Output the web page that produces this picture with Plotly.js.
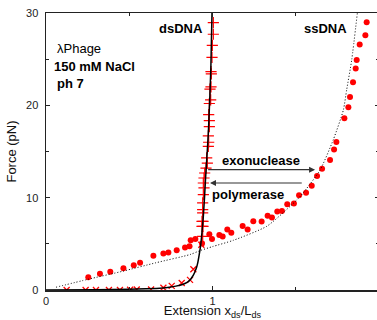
<!DOCTYPE html>
<html>
<head>
<meta charset="utf-8">
<script src="https://cdn.plot.ly/plotly-3.0.1.min.js"></script>
<style>
html,body{margin:0;padding:0;overflow:hidden;background:#fff;}
#chart{width:382px;height:320px;}
</style>
</head>
<body>
<div id="chart"></div>
<script>
// ssDNA measurements (filled circles)
var ssX = [0.254,0.324,0.386,0.465,0.527,0.565,0.645,0.705,0.735,0.785,0.835,0.862,0.869,0.897,0.937,0.981,0.997,1.041,1.061,1.089,1.113,1.181,1.211,1.245,1.295,1.331,1.357,1.389,1.417,1.449,1.489,1.520,1.562,1.596,1.628,1.658,1.706,1.730,1.744,1.792,1.816,1.826,1.844,1.860,1.866,1.884,1.918,1.926];
var ssF = [1.38,1.75,1.97,2.36,2.68,2.94,3.70,3.95,4.05,4.30,4.59,4.74,5.39,5.53,5.03,6.05,5.53,5.95,5.80,6.55,6.20,6.94,6.54,7.44,7.41,8.05,7.84,8.49,8.56,9.28,9.38,10.25,10.54,11.30,12.35,13.14,14.08,15.22,16.02,18.6,19.8,20.9,22.5,24.0,24.9,26.6,27.6,29.0];

// dsDNA measurements, high force ("+")
var dsPlusX = [1.005,1.005,0.999,0.997,0.991,0.993,0.991,0.985,0.989,0.981,0.977,0.981,0.981,0.975,0.977,0.975,0.965,0.969,0.961,0.953,0.949,0.945,0.949,0.945,0.941,0.941,0.941,0.943,0.937,0.943,0.937,0.941];
var dsPlusF = [28.95,27.7,26.5,25.2,23.65,23.4,22.0,21.75,20.6,20.2,19.0,18.35,17.7,16.7,16.0,15.55,14.3,13.75,13.2,12.67,12.13,11.59,11.05,10.32,9.43,8.70,8.35,7.44,7.44,6.90,6.90,5.80];

// dsDNA measurements, low force ("x")
var dsCrossX = [0.124,0.238,0.300,0.378,0.444,0.505,0.545,0.631,0.705,0.755,0.815,0.865,0.885,0.933];
var dsCrossF = [0.0,0.0,0.0,0.0,0.0,0.02,0.05,0.05,0.25,0.45,0.75,1.1,2.25,4.9];

// dsDNA model curve (solid)
var dsModelX = [0,0.3,0.5,0.6,0.7,0.74,0.78,0.82,0.85,0.87,0.885,0.895,0.905,0.912,0.92,0.93,0.938,0.945,0.952,0.958,0.965,0.975,0.983,0.99,0.997];
var dsModelF = [0,0.03,0.08,0.13,0.22,0.3,0.42,0.6,0.85,1.2,1.6,2.0,2.5,3.0,3.8,5.0,6.5,8.0,10.0,12.0,14.0,17.0,20.5,24.0,30.0];

// ssDNA model curve (dotted)
var ssModelX = [0.06,0.25,0.46,0.66,0.865,0.93,1.0,1.125,1.326,1.466,1.53,1.646,1.726,1.786,1.806,1.836,1.87];
var ssModelF = [0.3,1.15,2.03,2.95,3.84,4.3,4.7,5.38,6.9,9.06,10.2,13.0,16.3,19.5,21.7,24.9,30.0];

// labels
var xTickVals = [0,1,2];
var yTickVals = [0,10,20,30];

var FONT = 'Arial, "Liberation Sans", sans-serif';
var RED = '#ff0000';

var traces = [
  {x: dsCrossX, y: dsCrossF, type:'scatter', mode:'markers',
   marker:{symbol:'x-thin-open', size:6, color:RED, line:{color:RED, width:1.3}}, hoverinfo:'none'},
  {x: dsPlusX, y: dsPlusF, type:'scatter', mode:'markers',
   marker:{symbol:'cross-thin-open', size:8, color:RED, line:{color:RED, width:1.2}}, hoverinfo:'none'},
  {x: ssX, y: ssF, type:'scatter', mode:'markers',
   marker:{symbol:'circle', size:6, color:RED}, hoverinfo:'none'},
  {x: dsModelX, y: dsModelF, type:'scatter', mode:'lines',
   line:{color:'#000', width:1.5, shape:'spline', smoothing:0.6}, hoverinfo:'none'},
  {x: ssModelX, y: ssModelF, type:'scatter', mode:'lines',
   line:{color:'#000', width:1, dash:'1px,2px', shape:'spline', smoothing:0.6}, hoverinfo:'none'}
];

var axisCommon = {
  showline:true, linecolor:'#222', linewidth:1.5, mirror:'ticks',
  ticks:'inside', ticklen:4, tickcolor:'#222', tickwidth:1,
  showgrid:false, zeroline:false,
  tickfont:{family:FONT, size:11, color:'#222'}
};

var layout = {
  width:382, height:320,
  margin:{l:46, r:3, t:13, b:30},
  paper_bgcolor:'#fff', plot_bgcolor:'#fff',
  showlegend:false,
  font:{family:FONT, color:'#111'},
  xaxis: Object.assign({}, axisCommon, {
    range:[0,2], tickvals:xTickVals, ticktext:xTickVals.map(String),
    minor:{dtick:0.5, ticks:'inside', ticklen:3, tickcolor:'#222'},
    ticklabelstandoff:0,
    title:{text:'Extension x<sub>ds</sub>/L<sub>ds</sub>', font:{family:FONT, size:13, color:'#111'}, standoff:8}
  }),
  yaxis: Object.assign({}, axisCommon, {
    range:[0,30], tickvals:yTickVals, ticktext:yTickVals.map(String),
    minor:{dtick:5, ticks:'inside', ticklen:3, tickcolor:'#222'},
    ticklabelstandoff:4,
    title:{text:'Force (pN)', font:{family:FONT, size:13, color:'#111'}, standoff:6}
  }),
  annotations:[
    {x:0.808, y:28.27, xref:'x', yref:'y', text:'<b>dsDNA</b>', showarrow:false, font:{family:FONT, size:13, color:'#000'}},
    {x:1.679, y:28.27, xref:'x', yref:'y', text:'<b>ssDNA</b>', showarrow:false, font:{family:FONT, size:13, color:'#000'}},
    {x:0.054, y:26.2, xref:'x', yref:'y', text:'λPhage', showarrow:false, xanchor:'left', font:{family:FONT, size:13, color:'#000'}},
    {x:0.036, y:24.16, xref:'x', yref:'y', text:'<b>150 mM NaCl</b>', showarrow:false, xanchor:'left', font:{family:FONT, size:13, color:'#000'}},
    {x:0.054, y:22.4, xref:'x', yref:'y', text:'<b>ph 7</b>', showarrow:false, xanchor:'left', font:{family:FONT, size:13, color:'#000'}},
    {x:1.291, y:14.0, xref:'x', yref:'y', text:'<b>exonuclease</b>', showarrow:false, font:{family:FONT, size:13, color:'#000'}},
    {x:0.985, y:10.32, xref:'x', yref:'y', text:'<b>polymerase</b>', showarrow:false, xanchor:'left', font:{family:FONT, size:13, color:'#000'}},
    {x:1.616, y:13.03, xref:'x', yref:'y', ax:0.965, ay:13.03, axref:'x', ayref:'y', text:'', showarrow:true,
     arrowhead:2, arrowsize:1, arrowwidth:1.2, arrowcolor:'#333'},
    {x:0.985, y:11.59, xref:'x', yref:'y', ax:1.545, ay:11.59, axref:'x', ayref:'y', text:'', showarrow:true,
     arrowhead:2, arrowsize:1, arrowwidth:1.2, arrowcolor:'#333'}
  ]
};

Plotly.newPlot('chart', traces, layout, {staticPlot:true, displayModeBar:false});
</script>
</body>
</html>
